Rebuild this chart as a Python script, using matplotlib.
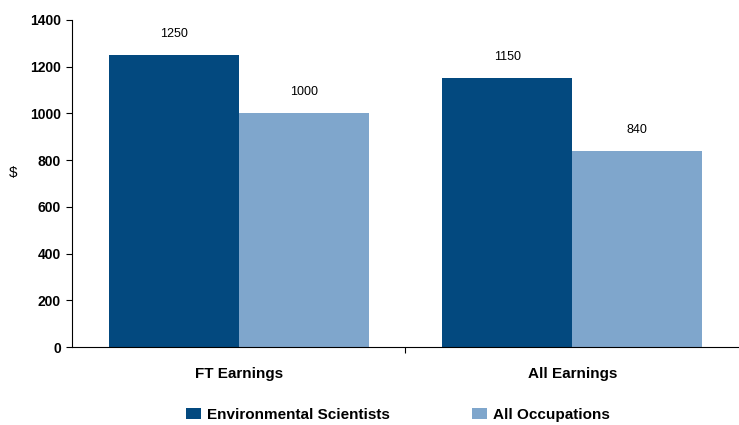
import numpy as np
import matplotlib.pyplot as plt

plt.rcParams['font.family'] = ['Liberation Sans', 'DejaVu Sans']

categories = ['FT Earnings', 'All Earnings']
env_scientists = [1250, 1150]
all_occupations = [1000, 840]
y_ticks = [0, 200, 400, 600, 800, 1000, 1200, 1400]

dark = '#03497f'
light = '#7fa6cc'

fig = plt.figure(figsize=(7.39, 4.25), dpi=100)
ax = fig.add_axes([0.0974, 0.1835, 0.9026, 0.7695])

x = np.arange(len(categories))
w = 0.39
b1 = ax.bar(x - w / 2, env_scientists, w, color=dark, label='Environmental Scientists')
b2 = ax.bar(x + w / 2, all_occupations, w, color=light, label='All Occupations')

for bars, vals in [(b1, env_scientists), (b2, all_occupations)]:
    for r, v in zip(bars, vals):
        ax.text(r.get_x() + r.get_width() / 2, v + 65, str(v),
                ha='center', va='bottom', fontsize=9)

ax.set_xlim(-0.5, 1.5)
ax.set_ylim(0, 1400)
ax.set_yticks(y_ticks)
ax.set_yticklabels([str(t) for t in y_ticks], fontsize=10, fontweight='bold')
ax.set_xticks([0.5])
ax.set_xticklabels([''])
ax.tick_params(axis='x', length=4, width=0.8)
ax.tick_params(axis='y', length=4, width=0.8, pad=4)
for i, c in enumerate(categories):
    ax.text(i, -85, c, ha='center', va='top', fontsize=11, fontweight='bold')
fig.text(0.018, 0.593, '$', fontsize=11, ha='center', va='center')

ax.spines['top'].set_visible(False)
ax.spines['right'].set_visible(False)

leg = fig.legend(loc='lower center', bbox_to_anchor=(0.5386, -0.025), ncol=2, frameon=False,
                 prop={'size': 11, 'weight': 'bold'}, handlelength=1.0, handleheight=0.7,
                 columnspacing=5.35, handletextpad=0.4)

plt.savefig('out.png', dpi=100)
